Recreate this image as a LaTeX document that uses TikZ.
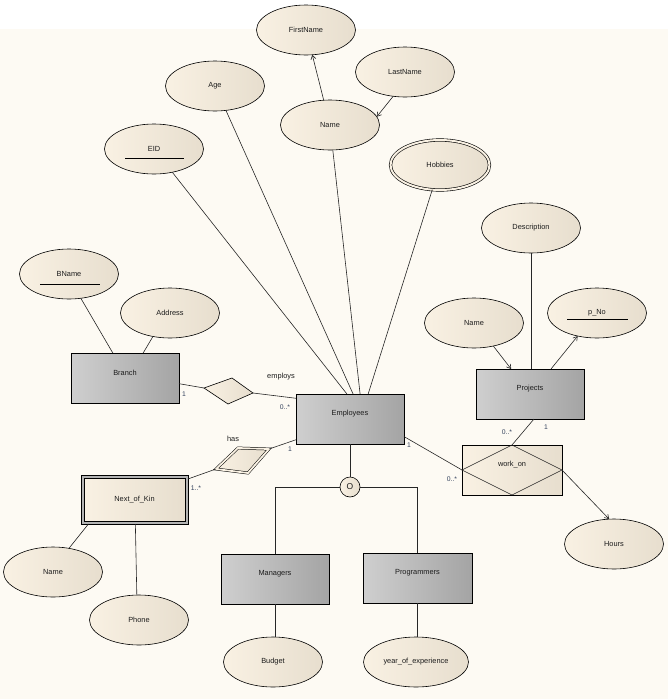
\documentclass[tikz,border=0pt]{standalone}
\usepackage{fontspec}
\setmainfont{Liberation Sans}
\usetikzlibrary{shapes.geometric,arrows.meta,calc}
\definecolor{bgc}{HTML}{FDFAF3}
\definecolor{ellL}{HTML}{F9F1E3}
\definecolor{ellR}{HTML}{E7DECE}
\definecolor{grayL}{HTML}{CFCFCF}
\definecolor{grayR}{HTML}{A4A4A4}
\definecolor{kinframe}{HTML}{B4B4B4}
\definecolor{cardc}{HTML}{33415C}
\definecolor{txt}{HTML}{1C1C1C}
\newcommand\upbox[1]{\raisebox{5pt}[\height][\depth]{#1}}
\begin{document}
\begin{tikzpicture}[x=1pt,y=-1pt,font=\fontsize{7.4}{8}\selectfont,text=txt,
  attr/.style={ellipse,draw,line width=0.6pt,minimum width=99pt,minimum height=50pt,inner sep=0pt,outer sep=0pt,left color=ellL,right color=ellR},
  entity/.style={rectangle,draw,line width=0.7pt,minimum width=108pt,minimum height=50pt,inner sep=0pt,outer sep=0pt,left color=grayL,right color=grayR},
  conn/.style={line width=0.6pt,draw=black!85},
  arr/.style={conn,-{Straight Barb[length=4pt,width=5pt]}},
  card/.style={font=\fontsize{6.8}{7}\selectfont,text=cardc,inner sep=0pt},
  lbl/.style={inner sep=0pt}]
\useasboundingbox (0,0) rectangle (668,699);
\fill[bgc] (0,29) rectangle (668,699);

% attributes
\node[attr] (fname) at (306,30) {FirstName};
\node[attr] (lname) at (405,72) {LastName};
\node[attr] (age) at (215,86) {Age};
\node[attr] (ename) at (330,125) {Name};
\node[attr] (eid) at (154,149) {EID};
\node[attr,double=ellL,double distance=2pt] (hobbies) at (440,165) {Hobbies};
\node[attr] (desc) at (531,228) {Description};
\node[attr] (bname) at (69,274) {BName};
\node[attr] (address) at (170,313) {Address};
\node[attr] (pname) at (474,323) {Name};
\node[attr] (pno) at (597,313) {p\_No};
\node[attr] (hours) at (614,544) {Hours};
\node[attr] (kname) at (53,572) {Name};
\node[attr] (phone) at (139,620) {Phone};
\node[attr] (budget) at (273,662) {Budget};
\node[attr,minimum width=105pt] (year) at (416,662) {year\_of\_experience};

% underlines of keys
\draw[line width=0.6pt] ([shift={(-29,9)}]eid.center) -- ([shift={(30,9)}]eid.center);
\draw[line width=0.6pt] ([shift={(-29,10)}]bname.center) -- ([shift={(31,10)}]bname.center);
\draw[line width=0.6pt] ([shift={(-30,6)}]pno.center) -- ([shift={(31,6)}]pno.center);

% entities
\node[entity] (branch) at (125,378) {\upbox{Branch}};
\node[entity] (emp) at (350,419) {\upbox{Employees}};
\node[entity] (proj) at (530,394) {\upbox{Projects}};
\node[entity] (mgr) at (275,579) {\upbox{Managers}};
\node[entity,minimum width=109pt] (prog) at (417.5,578) {\upbox{Programmers}};
\node[rectangle,draw,line width=0.7pt,fill=kinframe,minimum width=107pt,minimum height=49pt,inner sep=0pt,outer sep=0pt] (kin) at (134.5,499.5) {};
\node[rectangle,draw,line width=0.6pt,left color=ellL,right color=ellR,minimum width=101pt,minimum height=43pt,inner sep=0pt] (kininner) at (kin.center) {Next\_of\_Kin};

% associative relationship work_on
\node[rectangle,draw,line width=0.6pt,left color=ellL,right color=ellR,minimum width=100pt,minimum height=50pt,inner sep=0pt,outer sep=0pt] (work) at (512,470) {\upbox{work\_on}};
\draw[conn] (work.west) -- (work.north) -- (work.east) -- (work.south) -- cycle;

% employs diamond
\coordinate (empL) at (204,388);
\coordinate (empT) at (232,378);
\coordinate (empR) at (253,393);
\coordinate (empB) at (228,404);
\path[draw,line width=0.6pt,left color=ellL,right color=ellR] (empL) -- (empT) -- (empR) -- (empB) -- cycle;

% has double diamond
\coordinate (hasL) at (216,469);
\coordinate (hasT) at (238,448);
\coordinate (hasR) at (269,449);
\coordinate (hasB) at (248,473);
\path[draw,line width=0.5pt,double=ellL,double distance=1.8pt,left color=ellL,right color=ellR] (hasL) -- (hasT) -- (hasR) -- (hasB) -- cycle;

% disjoint circle
\node[circle,draw,line width=0.6pt,minimum size=20pt,inner sep=0pt,outer sep=0pt,left color=ellL,right color=ellR,font=\fontsize{8.5}{9}\selectfont] (disj) at (350,487) {O};

% connectors
\draw[conn] (eid) -- (emp.97);
\draw[conn] (age) -- (emp.83);
\draw[conn] (ename) -- (emp.68);
\draw[conn] (hobbies) -- (emp.54);
\draw[arr] (ename) -- (fname);
\draw[arr] (lname.244) -- (ename.10);
\draw[conn] (bname.-64) -- (branch.116);
\draw[conn] (address.-126) -- (branch.54);
\draw[conn] (branch.-6) -- (empL);
\draw[conn] (empR) -- (emp.159);
\draw[conn] (emp.201) -- (hasR);
\draw[conn] (hasL) -- (kin.21);
\draw[conn] (kin.208) -- (kname.56);
\draw[conn] (kin.-88) -- (phone.95);
\draw[conn] (emp.-18) -- (work.west);
\draw[conn] (proj.-81) -- (work.north);
\draw[arr] (work.east) -- (hours.101);
\draw[conn] (desc) -- (desc |- proj.north);
\draw[arr] (pname.-50) -- (proj.127);
\draw[arr] (proj.50) -- (pno.230);
\draw[conn] (emp.south) -- (disj.north);
\draw[conn] (disj.west) -| (mgr.north);
\draw[conn] (disj.east) -| (prog.north);
\draw[conn] (mgr.south) -- (mgr.south |- budget.north);
\draw[conn] (prog.south) -- (prog.south |- year.north);

% labels
\node[card] (c1) at (184,394) {1};
\node[lbl] (lemploys) at (281,377) {employs};
\node[card] (c2) at (285,407) {0..*};
\node[lbl] (lhas) at (233,439) {has};
\node[card] (c3) at (290,449) {1};
\node[card] (c4) at (196,488) {1..*};
\node[card] (c5) at (409,445) {1};
\node[card] (c6) at (452,479) {0..*};
\node[card] (c7) at (507,432) {0..*};
\node[card] (c8) at (546,427) {1};
\end{tikzpicture}
\end{document}
